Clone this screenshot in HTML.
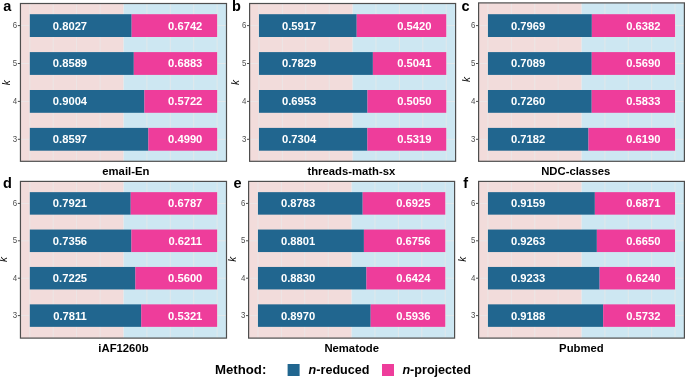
<!DOCTYPE html>
<html><head><meta charset="utf-8"><style>
html,body{margin:0;padding:0;background:#fff;overflow:hidden;}
svg{display:block;will-change:transform;}
text{font-family:"Liberation Sans", sans-serif;}
.vl{font-size:11.2px;font-weight:bold;fill:#fff;text-anchor:middle;}
.tk{font-size:8.6px;fill:#4d4d4d;text-anchor:end;}
.ti{font-size:11.3px;font-weight:bold;fill:#000;text-anchor:middle;}
.kl{font-size:10px;font-style:italic;fill:#000;text-anchor:middle;}
.pl{font-size:14.5px;font-weight:bold;fill:#000;}
.lg{font-size:13.2px;font-weight:bold;fill:#000;}
.lg2{font-size:12.6px;font-weight:bold;fill:#000;}
</style></head><body>
<svg width="685" height="377" viewBox="0 0 685 377">
<rect width="685" height="377" fill="#fff"/>
<rect x="20.45" y="3.5" width="103.02" height="157.8" fill="#f2dcdb"/>
<rect x="123.47" y="3.5" width="103.03" height="157.8" fill="#cde7f2"/>
<line x1="29.82" y1="3.5" x2="29.82" y2="161.3" stroke="#ebe6e7" stroke-width="0.9"/>
<line x1="53.23" y1="3.5" x2="53.23" y2="161.3" stroke="#ebe6e7" stroke-width="0.9"/>
<line x1="76.65" y1="3.5" x2="76.65" y2="161.3" stroke="#ebe6e7" stroke-width="0.9"/>
<line x1="100.06" y1="3.5" x2="100.06" y2="161.3" stroke="#ebe6e7" stroke-width="0.9"/>
<line x1="123.47" y1="3.5" x2="123.47" y2="161.3" stroke="#e7e7e9" stroke-width="0.9"/>
<line x1="146.89" y1="3.5" x2="146.89" y2="161.3" stroke="#e3e8ea" stroke-width="0.9"/>
<line x1="170.3" y1="3.5" x2="170.3" y2="161.3" stroke="#e3e8ea" stroke-width="0.9"/>
<line x1="193.72" y1="3.5" x2="193.72" y2="161.3" stroke="#e3e8ea" stroke-width="0.9"/>
<line x1="217.13" y1="3.5" x2="217.13" y2="161.3" stroke="#e3e8ea" stroke-width="0.9"/>
<line x1="20.45" y1="25.6" x2="123.47" y2="25.6" stroke="#ebe6e7" stroke-width="0.9"/>
<line x1="123.47" y1="25.6" x2="226.5" y2="25.6" stroke="#e3e8ea" stroke-width="0.9"/>
<line x1="20.45" y1="63.5" x2="123.47" y2="63.5" stroke="#ebe6e7" stroke-width="0.9"/>
<line x1="123.47" y1="63.5" x2="226.5" y2="63.5" stroke="#e3e8ea" stroke-width="0.9"/>
<line x1="20.45" y1="101.4" x2="123.47" y2="101.4" stroke="#ebe6e7" stroke-width="0.9"/>
<line x1="123.47" y1="101.4" x2="226.5" y2="101.4" stroke="#e3e8ea" stroke-width="0.9"/>
<line x1="20.45" y1="139.3" x2="123.47" y2="139.3" stroke="#ebe6e7" stroke-width="0.9"/>
<line x1="123.47" y1="139.3" x2="226.5" y2="139.3" stroke="#e3e8ea" stroke-width="0.9"/>
<rect x="29.82" y="14.2" width="101.81" height="22.8" fill="#21668f"/>
<rect x="131.62" y="14.2" width="85.51" height="22.8" fill="#ee3d9b"/>
<text x="69.97" y="29.55" class="vl">0.8027</text>
<text x="185.22" y="29.55" class="vl">0.6742</text>
<line x1="17.85" y1="25.6" x2="20.45" y2="25.6" stroke="#4d4d4d" stroke-width="1"/>
<text transform="translate(17.15,27.9) scale(0.92,1)" class="tk">6</text>
<rect x="29.82" y="52.1" width="103.99" height="22.8" fill="#21668f"/>
<rect x="133.8" y="52.1" width="83.33" height="22.8" fill="#ee3d9b"/>
<text x="69.97" y="67.45" class="vl">0.8589</text>
<text x="185.22" y="67.45" class="vl">0.6883</text>
<line x1="17.85" y1="63.5" x2="20.45" y2="63.5" stroke="#4d4d4d" stroke-width="1"/>
<text transform="translate(17.15,65.8) scale(0.92,1)" class="tk">5</text>
<rect x="29.82" y="90" width="114.53" height="22.8" fill="#21668f"/>
<rect x="144.35" y="90" width="72.79" height="22.8" fill="#ee3d9b"/>
<text x="69.97" y="105.35" class="vl">0.9004</text>
<text x="185.22" y="105.35" class="vl">0.5722</text>
<line x1="17.85" y1="101.4" x2="20.45" y2="101.4" stroke="#4d4d4d" stroke-width="1"/>
<text transform="translate(17.15,103.7) scale(0.92,1)" class="tk">4</text>
<rect x="29.82" y="127.9" width="118.52" height="22.8" fill="#21668f"/>
<rect x="148.34" y="127.9" width="68.8" height="22.8" fill="#ee3d9b"/>
<text x="69.97" y="143.25" class="vl">0.8597</text>
<text x="185.22" y="143.25" class="vl">0.4990</text>
<line x1="17.85" y1="139.3" x2="20.45" y2="139.3" stroke="#4d4d4d" stroke-width="1"/>
<text transform="translate(17.15,141.6) scale(0.92,1)" class="tk">3</text>
<rect x="20.45" y="3.5" width="206.05" height="157.8" fill="none" stroke="#4e4e4e" stroke-width="1.2"/>
<text x="125.85" y="174.9" class="ti">email-En</text>
<text transform="translate(10.3,82.7) rotate(-90)" class="kl">k</text>
<text x="3.3" y="11" class="pl">a</text>
<rect x="249.6" y="3.5" width="103" height="157.8" fill="#f2dcdb"/>
<rect x="352.6" y="3.5" width="103" height="157.8" fill="#cde7f2"/>
<line x1="258.96" y1="3.5" x2="258.96" y2="161.3" stroke="#ebe6e7" stroke-width="0.9"/>
<line x1="282.37" y1="3.5" x2="282.37" y2="161.3" stroke="#ebe6e7" stroke-width="0.9"/>
<line x1="305.78" y1="3.5" x2="305.78" y2="161.3" stroke="#ebe6e7" stroke-width="0.9"/>
<line x1="329.19" y1="3.5" x2="329.19" y2="161.3" stroke="#ebe6e7" stroke-width="0.9"/>
<line x1="352.6" y1="3.5" x2="352.6" y2="161.3" stroke="#e7e7e9" stroke-width="0.9"/>
<line x1="376.01" y1="3.5" x2="376.01" y2="161.3" stroke="#e3e8ea" stroke-width="0.9"/>
<line x1="399.42" y1="3.5" x2="399.42" y2="161.3" stroke="#e3e8ea" stroke-width="0.9"/>
<line x1="422.83" y1="3.5" x2="422.83" y2="161.3" stroke="#e3e8ea" stroke-width="0.9"/>
<line x1="446.24" y1="3.5" x2="446.24" y2="161.3" stroke="#e3e8ea" stroke-width="0.9"/>
<line x1="249.6" y1="25.6" x2="352.6" y2="25.6" stroke="#ebe6e7" stroke-width="0.9"/>
<line x1="352.6" y1="25.6" x2="455.6" y2="25.6" stroke="#e3e8ea" stroke-width="0.9"/>
<line x1="249.6" y1="63.5" x2="352.6" y2="63.5" stroke="#ebe6e7" stroke-width="0.9"/>
<line x1="352.6" y1="63.5" x2="455.6" y2="63.5" stroke="#e3e8ea" stroke-width="0.9"/>
<line x1="249.6" y1="101.4" x2="352.6" y2="101.4" stroke="#ebe6e7" stroke-width="0.9"/>
<line x1="352.6" y1="101.4" x2="455.6" y2="101.4" stroke="#e3e8ea" stroke-width="0.9"/>
<line x1="249.6" y1="139.3" x2="352.6" y2="139.3" stroke="#ebe6e7" stroke-width="0.9"/>
<line x1="352.6" y1="139.3" x2="455.6" y2="139.3" stroke="#e3e8ea" stroke-width="0.9"/>
<rect x="258.96" y="14.2" width="97.74" height="22.8" fill="#21668f"/>
<rect x="356.7" y="14.2" width="89.53" height="22.8" fill="#ee3d9b"/>
<text x="299.11" y="29.55" class="vl">0.5917</text>
<text x="414.36" y="29.55" class="vl">0.5420</text>
<line x1="247" y1="25.6" x2="249.6" y2="25.6" stroke="#4d4d4d" stroke-width="1"/>
<text transform="translate(246.3,27.9) scale(0.92,1)" class="tk">6</text>
<rect x="258.96" y="52.1" width="113.92" height="22.8" fill="#21668f"/>
<rect x="372.88" y="52.1" width="73.35" height="22.8" fill="#ee3d9b"/>
<text x="299.11" y="67.45" class="vl">0.7829</text>
<text x="414.36" y="67.45" class="vl">0.5041</text>
<line x1="247" y1="63.5" x2="249.6" y2="63.5" stroke="#4d4d4d" stroke-width="1"/>
<text transform="translate(246.3,65.8) scale(0.92,1)" class="tk">5</text>
<rect x="258.96" y="90" width="108.48" height="22.8" fill="#21668f"/>
<rect x="367.45" y="90" width="78.79" height="22.8" fill="#ee3d9b"/>
<text x="299.11" y="105.35" class="vl">0.6953</text>
<text x="414.36" y="105.35" class="vl">0.5050</text>
<line x1="247" y1="101.4" x2="249.6" y2="101.4" stroke="#4d4d4d" stroke-width="1"/>
<text transform="translate(246.3,103.7) scale(0.92,1)" class="tk">4</text>
<rect x="258.96" y="127.9" width="108.36" height="22.8" fill="#21668f"/>
<rect x="367.32" y="127.9" width="78.91" height="22.8" fill="#ee3d9b"/>
<text x="299.11" y="143.25" class="vl">0.7304</text>
<text x="414.36" y="143.25" class="vl">0.5319</text>
<line x1="247" y1="139.3" x2="249.6" y2="139.3" stroke="#4d4d4d" stroke-width="1"/>
<text transform="translate(246.3,141.6) scale(0.92,1)" class="tk">3</text>
<rect x="249.6" y="3.5" width="206" height="157.8" fill="none" stroke="#4e4e4e" stroke-width="1.2"/>
<text x="351.4" y="174.9" class="ti">threads-math-sx</text>
<text transform="translate(238.9,82.5) rotate(-90)" class="kl">k</text>
<text x="232" y="11" class="pl">b</text>
<rect x="478.6" y="2.9" width="102.9" height="158.4" fill="#f2dcdb"/>
<rect x="581.5" y="2.9" width="102.9" height="158.4" fill="#cde7f2"/>
<line x1="487.95" y1="2.9" x2="487.95" y2="161.3" stroke="#ebe6e7" stroke-width="0.9"/>
<line x1="511.34" y1="2.9" x2="511.34" y2="161.3" stroke="#ebe6e7" stroke-width="0.9"/>
<line x1="534.73" y1="2.9" x2="534.73" y2="161.3" stroke="#ebe6e7" stroke-width="0.9"/>
<line x1="558.11" y1="2.9" x2="558.11" y2="161.3" stroke="#ebe6e7" stroke-width="0.9"/>
<line x1="581.5" y1="2.9" x2="581.5" y2="161.3" stroke="#e7e7e9" stroke-width="0.9"/>
<line x1="604.89" y1="2.9" x2="604.89" y2="161.3" stroke="#e3e8ea" stroke-width="0.9"/>
<line x1="628.27" y1="2.9" x2="628.27" y2="161.3" stroke="#e3e8ea" stroke-width="0.9"/>
<line x1="651.66" y1="2.9" x2="651.66" y2="161.3" stroke="#e3e8ea" stroke-width="0.9"/>
<line x1="675.05" y1="2.9" x2="675.05" y2="161.3" stroke="#e3e8ea" stroke-width="0.9"/>
<line x1="478.6" y1="25.6" x2="581.5" y2="25.6" stroke="#ebe6e7" stroke-width="0.9"/>
<line x1="581.5" y1="25.6" x2="684.4" y2="25.6" stroke="#e3e8ea" stroke-width="0.9"/>
<line x1="478.6" y1="63.5" x2="581.5" y2="63.5" stroke="#ebe6e7" stroke-width="0.9"/>
<line x1="581.5" y1="63.5" x2="684.4" y2="63.5" stroke="#e3e8ea" stroke-width="0.9"/>
<line x1="478.6" y1="101.4" x2="581.5" y2="101.4" stroke="#ebe6e7" stroke-width="0.9"/>
<line x1="581.5" y1="101.4" x2="684.4" y2="101.4" stroke="#e3e8ea" stroke-width="0.9"/>
<line x1="478.6" y1="139.3" x2="581.5" y2="139.3" stroke="#ebe6e7" stroke-width="0.9"/>
<line x1="581.5" y1="139.3" x2="684.4" y2="139.3" stroke="#e3e8ea" stroke-width="0.9"/>
<rect x="487.95" y="14.2" width="103.89" height="22.8" fill="#21668f"/>
<rect x="591.84" y="14.2" width="83.2" height="22.8" fill="#ee3d9b"/>
<text x="528.1" y="29.55" class="vl">0.7969</text>
<text x="643.35" y="29.55" class="vl">0.6382</text>
<line x1="476" y1="25.6" x2="478.6" y2="25.6" stroke="#4d4d4d" stroke-width="1"/>
<text transform="translate(475.3,27.9) scale(0.92,1)" class="tk">6</text>
<rect x="487.95" y="52.1" width="103.79" height="22.8" fill="#21668f"/>
<rect x="591.74" y="52.1" width="83.3" height="22.8" fill="#ee3d9b"/>
<text x="528.1" y="67.45" class="vl">0.7089</text>
<text x="643.35" y="67.45" class="vl">0.5690</text>
<line x1="476" y1="63.5" x2="478.6" y2="63.5" stroke="#4d4d4d" stroke-width="1"/>
<text transform="translate(475.3,65.8) scale(0.92,1)" class="tk">5</text>
<rect x="487.95" y="90" width="103.74" height="22.8" fill="#21668f"/>
<rect x="591.7" y="90" width="83.35" height="22.8" fill="#ee3d9b"/>
<text x="528.1" y="105.35" class="vl">0.7260</text>
<text x="643.35" y="105.35" class="vl">0.5833</text>
<line x1="476" y1="101.4" x2="478.6" y2="101.4" stroke="#4d4d4d" stroke-width="1"/>
<text transform="translate(475.3,103.7) scale(0.92,1)" class="tk">4</text>
<rect x="487.95" y="127.9" width="100.49" height="22.8" fill="#21668f"/>
<rect x="588.44" y="127.9" width="86.61" height="22.8" fill="#ee3d9b"/>
<text x="528.1" y="143.25" class="vl">0.7182</text>
<text x="643.35" y="143.25" class="vl">0.6190</text>
<line x1="476" y1="139.3" x2="478.6" y2="139.3" stroke="#4d4d4d" stroke-width="1"/>
<text transform="translate(475.3,141.6) scale(0.92,1)" class="tk">3</text>
<rect x="478.6" y="2.9" width="205.8" height="158.4" fill="none" stroke="#4e4e4e" stroke-width="1.2"/>
<text x="575.7" y="174.9" class="ti">NDC-classes</text>
<text transform="translate(469.6,79.5) rotate(-90)" class="kl">k</text>
<text x="461.5" y="11" class="pl">c</text>
<rect x="20.45" y="181.4" width="103.02" height="156.7" fill="#f2dcdb"/>
<rect x="123.47" y="181.4" width="103.03" height="156.7" fill="#cde7f2"/>
<line x1="29.82" y1="181.4" x2="29.82" y2="338.1" stroke="#ebe6e7" stroke-width="0.9"/>
<line x1="53.23" y1="181.4" x2="53.23" y2="338.1" stroke="#ebe6e7" stroke-width="0.9"/>
<line x1="76.65" y1="181.4" x2="76.65" y2="338.1" stroke="#ebe6e7" stroke-width="0.9"/>
<line x1="100.06" y1="181.4" x2="100.06" y2="338.1" stroke="#ebe6e7" stroke-width="0.9"/>
<line x1="123.47" y1="181.4" x2="123.47" y2="338.1" stroke="#e7e7e9" stroke-width="0.9"/>
<line x1="146.89" y1="181.4" x2="146.89" y2="338.1" stroke="#e3e8ea" stroke-width="0.9"/>
<line x1="170.3" y1="181.4" x2="170.3" y2="338.1" stroke="#e3e8ea" stroke-width="0.9"/>
<line x1="193.72" y1="181.4" x2="193.72" y2="338.1" stroke="#e3e8ea" stroke-width="0.9"/>
<line x1="217.13" y1="181.4" x2="217.13" y2="338.1" stroke="#e3e8ea" stroke-width="0.9"/>
<line x1="20.45" y1="203.4" x2="123.47" y2="203.4" stroke="#ebe6e7" stroke-width="0.9"/>
<line x1="123.47" y1="203.4" x2="226.5" y2="203.4" stroke="#e3e8ea" stroke-width="0.9"/>
<line x1="20.45" y1="240.8" x2="123.47" y2="240.8" stroke="#ebe6e7" stroke-width="0.9"/>
<line x1="123.47" y1="240.8" x2="226.5" y2="240.8" stroke="#e3e8ea" stroke-width="0.9"/>
<line x1="20.45" y1="278.2" x2="123.47" y2="278.2" stroke="#ebe6e7" stroke-width="0.9"/>
<line x1="123.47" y1="278.2" x2="226.5" y2="278.2" stroke="#e3e8ea" stroke-width="0.9"/>
<line x1="20.45" y1="315.6" x2="123.47" y2="315.6" stroke="#ebe6e7" stroke-width="0.9"/>
<line x1="123.47" y1="315.6" x2="226.5" y2="315.6" stroke="#e3e8ea" stroke-width="0.9"/>
<rect x="29.82" y="192.15" width="100.88" height="22.5" fill="#21668f"/>
<rect x="130.7" y="192.15" width="86.44" height="22.5" fill="#ee3d9b"/>
<text x="69.97" y="207.35" class="vl">0.7921</text>
<text x="185.22" y="207.35" class="vl">0.6787</text>
<line x1="17.85" y1="203.4" x2="20.45" y2="203.4" stroke="#4d4d4d" stroke-width="1"/>
<text transform="translate(17.15,205.7) scale(0.92,1)" class="tk">6</text>
<rect x="29.82" y="229.55" width="101.56" height="22.5" fill="#21668f"/>
<rect x="131.38" y="229.55" width="85.75" height="22.5" fill="#ee3d9b"/>
<text x="69.97" y="244.75" class="vl">0.7356</text>
<text x="185.22" y="244.75" class="vl">0.6211</text>
<line x1="17.85" y1="240.8" x2="20.45" y2="240.8" stroke="#4d4d4d" stroke-width="1"/>
<text transform="translate(17.15,243.1) scale(0.92,1)" class="tk">5</text>
<rect x="29.82" y="266.95" width="105.53" height="22.5" fill="#21668f"/>
<rect x="135.34" y="266.95" width="81.79" height="22.5" fill="#ee3d9b"/>
<text x="69.97" y="282.15" class="vl">0.7225</text>
<text x="185.22" y="282.15" class="vl">0.5600</text>
<line x1="17.85" y1="278.2" x2="20.45" y2="278.2" stroke="#4d4d4d" stroke-width="1"/>
<text transform="translate(17.15,280.5) scale(0.92,1)" class="tk">4</text>
<rect x="29.82" y="304.35" width="111.42" height="22.5" fill="#21668f"/>
<rect x="141.23" y="304.35" width="75.9" height="22.5" fill="#ee3d9b"/>
<text x="69.97" y="319.55" class="vl">0.7811</text>
<text x="185.22" y="319.55" class="vl">0.5321</text>
<line x1="17.85" y1="315.6" x2="20.45" y2="315.6" stroke="#4d4d4d" stroke-width="1"/>
<text transform="translate(17.15,317.9) scale(0.92,1)" class="tk">3</text>
<rect x="20.45" y="181.4" width="206.05" height="156.7" fill="none" stroke="#4e4e4e" stroke-width="1.2"/>
<text x="123.45" y="351.5" class="ti">iAF1260b</text>
<text transform="translate(7.3,259.5) rotate(-90)" class="kl">k</text>
<text x="2.9" y="188" class="pl">d</text>
<rect x="248.6" y="181.4" width="103" height="156.7" fill="#f2dcdb"/>
<rect x="351.6" y="181.4" width="103" height="156.7" fill="#cde7f2"/>
<line x1="257.96" y1="181.4" x2="257.96" y2="338.1" stroke="#ebe6e7" stroke-width="0.9"/>
<line x1="281.37" y1="181.4" x2="281.37" y2="338.1" stroke="#ebe6e7" stroke-width="0.9"/>
<line x1="304.78" y1="181.4" x2="304.78" y2="338.1" stroke="#ebe6e7" stroke-width="0.9"/>
<line x1="328.19" y1="181.4" x2="328.19" y2="338.1" stroke="#ebe6e7" stroke-width="0.9"/>
<line x1="351.6" y1="181.4" x2="351.6" y2="338.1" stroke="#e7e7e9" stroke-width="0.9"/>
<line x1="375.01" y1="181.4" x2="375.01" y2="338.1" stroke="#e3e8ea" stroke-width="0.9"/>
<line x1="398.42" y1="181.4" x2="398.42" y2="338.1" stroke="#e3e8ea" stroke-width="0.9"/>
<line x1="421.83" y1="181.4" x2="421.83" y2="338.1" stroke="#e3e8ea" stroke-width="0.9"/>
<line x1="445.24" y1="181.4" x2="445.24" y2="338.1" stroke="#e3e8ea" stroke-width="0.9"/>
<line x1="248.6" y1="203.4" x2="351.6" y2="203.4" stroke="#ebe6e7" stroke-width="0.9"/>
<line x1="351.6" y1="203.4" x2="454.6" y2="203.4" stroke="#e3e8ea" stroke-width="0.9"/>
<line x1="248.6" y1="240.8" x2="351.6" y2="240.8" stroke="#ebe6e7" stroke-width="0.9"/>
<line x1="351.6" y1="240.8" x2="454.6" y2="240.8" stroke="#e3e8ea" stroke-width="0.9"/>
<line x1="248.6" y1="278.2" x2="351.6" y2="278.2" stroke="#ebe6e7" stroke-width="0.9"/>
<line x1="351.6" y1="278.2" x2="454.6" y2="278.2" stroke="#e3e8ea" stroke-width="0.9"/>
<line x1="248.6" y1="315.6" x2="351.6" y2="315.6" stroke="#ebe6e7" stroke-width="0.9"/>
<line x1="351.6" y1="315.6" x2="454.6" y2="315.6" stroke="#e3e8ea" stroke-width="0.9"/>
<rect x="257.96" y="192.15" width="104.71" height="22.5" fill="#21668f"/>
<rect x="362.68" y="192.15" width="82.56" height="22.5" fill="#ee3d9b"/>
<text x="298.11" y="207.35" class="vl">0.8783</text>
<text x="413.36" y="207.35" class="vl">0.6925</text>
<line x1="246" y1="203.4" x2="248.6" y2="203.4" stroke="#4d4d4d" stroke-width="1"/>
<text transform="translate(245.3,205.7) scale(0.92,1)" class="tk">6</text>
<rect x="257.96" y="229.55" width="105.95" height="22.5" fill="#21668f"/>
<rect x="363.91" y="229.55" width="81.33" height="22.5" fill="#ee3d9b"/>
<text x="298.11" y="244.75" class="vl">0.8801</text>
<text x="413.36" y="244.75" class="vl">0.6756</text>
<line x1="246" y1="240.8" x2="248.6" y2="240.8" stroke="#4d4d4d" stroke-width="1"/>
<text transform="translate(245.3,243.1) scale(0.92,1)" class="tk">5</text>
<rect x="257.96" y="266.95" width="108.41" height="22.5" fill="#21668f"/>
<rect x="366.37" y="266.95" width="78.87" height="22.5" fill="#ee3d9b"/>
<text x="298.11" y="282.15" class="vl">0.8830</text>
<text x="413.36" y="282.15" class="vl">0.6424</text>
<line x1="246" y1="278.2" x2="248.6" y2="278.2" stroke="#4d4d4d" stroke-width="1"/>
<text transform="translate(245.3,280.5) scale(0.92,1)" class="tk">4</text>
<rect x="257.96" y="304.35" width="112.7" height="22.5" fill="#21668f"/>
<rect x="370.66" y="304.35" width="74.58" height="22.5" fill="#ee3d9b"/>
<text x="298.11" y="319.55" class="vl">0.8970</text>
<text x="413.36" y="319.55" class="vl">0.5936</text>
<line x1="246" y1="315.6" x2="248.6" y2="315.6" stroke="#4d4d4d" stroke-width="1"/>
<text transform="translate(245.3,317.9) scale(0.92,1)" class="tk">3</text>
<rect x="248.6" y="181.4" width="206" height="156.7" fill="none" stroke="#4e4e4e" stroke-width="1.2"/>
<text x="351.7" y="351.5" class="ti">Nematode</text>
<text transform="translate(236.1,259.2) rotate(-90)" class="kl">k</text>
<text x="233.5" y="188" class="pl">e</text>
<rect x="478.6" y="181.4" width="102.9" height="156.7" fill="#f2dcdb"/>
<rect x="581.5" y="181.4" width="102.9" height="156.7" fill="#cde7f2"/>
<line x1="487.95" y1="181.4" x2="487.95" y2="338.1" stroke="#ebe6e7" stroke-width="0.9"/>
<line x1="511.34" y1="181.4" x2="511.34" y2="338.1" stroke="#ebe6e7" stroke-width="0.9"/>
<line x1="534.73" y1="181.4" x2="534.73" y2="338.1" stroke="#ebe6e7" stroke-width="0.9"/>
<line x1="558.11" y1="181.4" x2="558.11" y2="338.1" stroke="#ebe6e7" stroke-width="0.9"/>
<line x1="581.5" y1="181.4" x2="581.5" y2="338.1" stroke="#e7e7e9" stroke-width="0.9"/>
<line x1="604.89" y1="181.4" x2="604.89" y2="338.1" stroke="#e3e8ea" stroke-width="0.9"/>
<line x1="628.27" y1="181.4" x2="628.27" y2="338.1" stroke="#e3e8ea" stroke-width="0.9"/>
<line x1="651.66" y1="181.4" x2="651.66" y2="338.1" stroke="#e3e8ea" stroke-width="0.9"/>
<line x1="675.05" y1="181.4" x2="675.05" y2="338.1" stroke="#e3e8ea" stroke-width="0.9"/>
<line x1="478.6" y1="203.4" x2="581.5" y2="203.4" stroke="#ebe6e7" stroke-width="0.9"/>
<line x1="581.5" y1="203.4" x2="684.4" y2="203.4" stroke="#e3e8ea" stroke-width="0.9"/>
<line x1="478.6" y1="240.8" x2="581.5" y2="240.8" stroke="#ebe6e7" stroke-width="0.9"/>
<line x1="581.5" y1="240.8" x2="684.4" y2="240.8" stroke="#e3e8ea" stroke-width="0.9"/>
<line x1="478.6" y1="278.2" x2="581.5" y2="278.2" stroke="#ebe6e7" stroke-width="0.9"/>
<line x1="581.5" y1="278.2" x2="684.4" y2="278.2" stroke="#e3e8ea" stroke-width="0.9"/>
<line x1="478.6" y1="315.6" x2="581.5" y2="315.6" stroke="#ebe6e7" stroke-width="0.9"/>
<line x1="581.5" y1="315.6" x2="684.4" y2="315.6" stroke="#e3e8ea" stroke-width="0.9"/>
<rect x="487.95" y="192.15" width="106.9" height="22.5" fill="#21668f"/>
<rect x="594.85" y="192.15" width="80.19" height="22.5" fill="#ee3d9b"/>
<text x="528.1" y="207.35" class="vl">0.9159</text>
<text x="643.35" y="207.35" class="vl">0.6871</text>
<line x1="476" y1="203.4" x2="478.6" y2="203.4" stroke="#4d4d4d" stroke-width="1"/>
<text transform="translate(475.3,205.7) scale(0.92,1)" class="tk">6</text>
<rect x="487.95" y="229.55" width="108.91" height="22.5" fill="#21668f"/>
<rect x="596.86" y="229.55" width="78.18" height="22.5" fill="#ee3d9b"/>
<text x="528.1" y="244.75" class="vl">0.9263</text>
<text x="643.35" y="244.75" class="vl">0.6650</text>
<line x1="476" y1="240.8" x2="478.6" y2="240.8" stroke="#4d4d4d" stroke-width="1"/>
<text transform="translate(475.3,243.1) scale(0.92,1)" class="tk">5</text>
<rect x="487.95" y="266.95" width="111.64" height="22.5" fill="#21668f"/>
<rect x="599.59" y="266.95" width="75.45" height="22.5" fill="#ee3d9b"/>
<text x="528.1" y="282.15" class="vl">0.9233</text>
<text x="643.35" y="282.15" class="vl">0.6240</text>
<line x1="476" y1="278.2" x2="478.6" y2="278.2" stroke="#4d4d4d" stroke-width="1"/>
<text transform="translate(475.3,280.5) scale(0.92,1)" class="tk">4</text>
<rect x="487.95" y="304.35" width="115.21" height="22.5" fill="#21668f"/>
<rect x="603.17" y="304.35" width="71.88" height="22.5" fill="#ee3d9b"/>
<text x="528.1" y="319.55" class="vl">0.9188</text>
<text x="643.35" y="319.55" class="vl">0.5732</text>
<line x1="476" y1="315.6" x2="478.6" y2="315.6" stroke="#4d4d4d" stroke-width="1"/>
<text transform="translate(475.3,317.9) scale(0.92,1)" class="tk">3</text>
<rect x="478.6" y="181.4" width="205.8" height="156.7" fill="none" stroke="#4e4e4e" stroke-width="1.2"/>
<text x="581.4" y="351.5" class="ti">Pubmed</text>
<text transform="translate(465.6,259.2) rotate(-90)" class="kl">k</text>
<text x="463.2" y="188" class="pl">f</text>
<text x="215" y="374.3" class="lg">Method:</text>
<rect x="287.6" y="364" width="12" height="12" fill="#21668f"/>
<text x="308.6" y="374.3" class="lg2"><tspan font-style="italic">n</tspan>-reduced</text>
<rect x="382" y="364" width="12" height="12" fill="#ee3d9b"/>
<text x="402.4" y="374.3" class="lg2"><tspan font-style="italic">n</tspan>-projected</text>
</svg>
</body></html>
